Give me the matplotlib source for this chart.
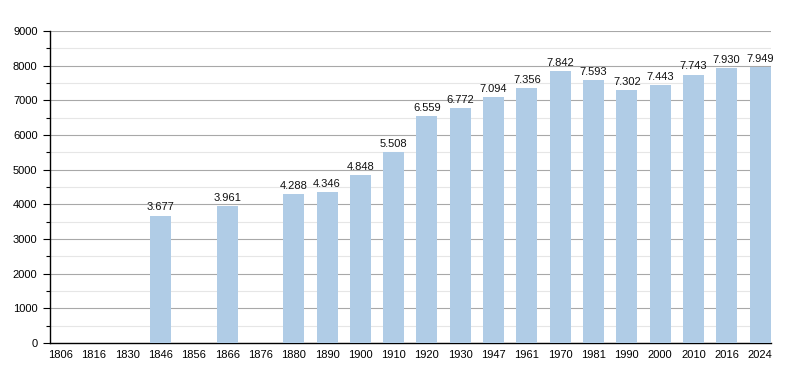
import numpy as np
import matplotlib
matplotlib.use("Agg")
import matplotlib.pyplot as plt
from matplotlib.ticker import MultipleLocator

years = ["1806", "1816", "1830", "1846", "1856", "1866", "1876", "1880", "1890",
         "1900", "1910", "1920", "1930", "1947", "1961", "1970", "1981", "1990",
         "2000", "2010", "2016", "2024"]
population = [None, None, None, 3677, None, 3961, None, 4288, 4346,
              4848, 5508, 6559, 6772, 7094, 7356, 7842, 7593, 7302,
              7443, 7743, 7930, 7949]

plt.rcParams['font.family'] = ['Liberation Sans', 'DejaVu Sans']

fig = plt.figure(figsize=(8, 3.73), dpi=100)
ax = fig.add_axes([50 / 800, 1 - 343 / 373, 721 / 800, 312 / 373])

x = np.arange(len(years))
for i, v in enumerate(population):
    if v is None:
        continue
    ax.bar(i, v, width=0.63, color='#b0cce6', zorder=3)
    ax.text(i, v + 90, f"{v:,}".replace(",", "."), ha='center', va='bottom',
            fontsize=8, color='#111111', zorder=4)

ax.set_xlim(-0.318, 21.33)
ax.set_ylim(0, 9000)
ax.set_xticks(x)
ax.set_xticklabels(years)
ax.yaxis.set_major_locator(MultipleLocator(1000))
ax.yaxis.set_minor_locator(MultipleLocator(500))
ax.grid(axis='y', which='major', color='#a8a8a8', linewidth=0.8, zorder=1)
ax.grid(axis='y', which='minor', color='#e6e6e6', linewidth=0.8, zorder=1)

ax.tick_params(axis='x', length=0, labelsize=8, pad=5)
ax.tick_params(axis='y', which='major', length=5, width=0.8, labelsize=8, pad=4)
ax.tick_params(axis='y', which='minor', length=3, width=0.8)

for side in ['top', 'right']:
    ax.spines[side].set_visible(False)
ax.spines['left'].set_linewidth(1)
ax.spines['bottom'].set_linewidth(1)

fig.savefig("out.png", dpi=100)
